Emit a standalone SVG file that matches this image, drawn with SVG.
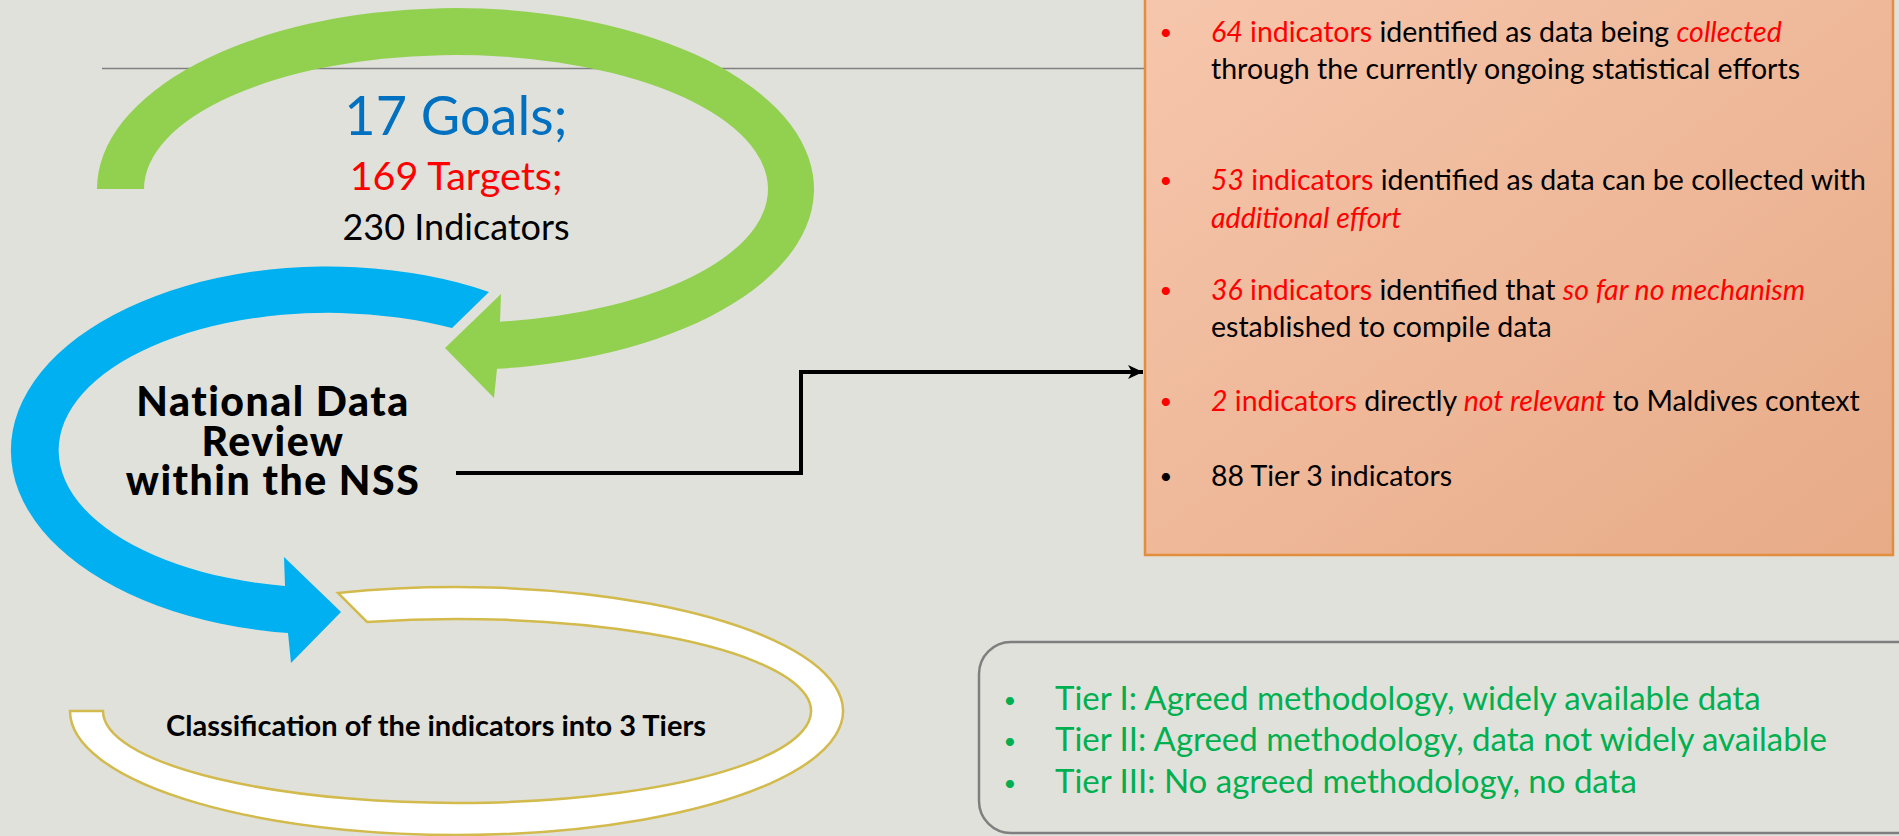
<svg xmlns="http://www.w3.org/2000/svg" width="1899" height="836" viewBox="0 0 1899 836">
<defs>
<style>
.cal{font-family:Lato,"Liberation Sans",sans-serif}
.r{fill:#FF0000}
.i{font-style:italic}
.k{fill:#000000}
.box{font-size:28.5px}
.bul{font-size:22px}
.tier{font-size:33px;fill:#00B050}
</style>
<linearGradient id="peach" x1="0" y1="0" x2="1" y2="1">
<stop offset="0" stop-color="#F6C6AC"/>
<stop offset="1" stop-color="#E7AB87"/>
</linearGradient>
<marker id="arr" markerUnits="userSpaceOnUse" markerWidth="16" markerHeight="16" viewBox="0 0 16 16" refX="15" refY="8" orient="auto">
<path d="M0,1 L15,8 L0,15 L4,8 Z" fill="#000"/>
</marker>
</defs>
<rect x="0" y="0" width="1899" height="836" fill="#E0E1DB"/>
<line x1="102" y1="68.5" x2="1145" y2="68.5" stroke="#808080" stroke-width="1.3"/>

<g id="classification">
<path d="M 338 593 A 386.5 124 0 1 1 70 711 L 103 711 A 354 92 0 1 0 367 622 Z" fill="#FFFFFF" stroke="#D2BA4C" stroke-width="2.5"/>
<text class="cal" x="436" y="736" font-size="29" font-weight="bold" text-anchor="middle" fill="#000">Classification of the indicators into 3 Tiers</text>
</g>

<g id="review">
<path d="M 489 292 A 317 184 0 1 0 288 633 L 291 663 L 341 612 L 284 557 L 285 586 A 270 137.5 0 1 1 452 328 Z" fill="#00B0F0"/>
<text font-family="Lato,'Liberation Sans',sans-serif" font-weight="900" font-size="41" letter-spacing="1.5" text-anchor="middle" fill="#000"><tspan x="273" y="416">National Data</tspan><tspan x="273" y="456">Review</tspan><tspan x="273" y="495">within the NSS</tspan></text>
</g>

<g id="goals">
<path d="M 97 189 A 358.5 181 0 1 1 497 368.8 L 494 398 L 445 348 L 501 294 L 500 321.7 A 312 134 0 1 0 144 189 Z" fill="#92D050"/>
<text class="cal" x="456" y="135" font-size="54" text-anchor="middle" fill="#0070C0">17 Goals;</text>
<text class="cal" x="456" y="190" font-size="39.5" text-anchor="middle" fill="#FF0000">169 Targets;</text>
<text class="cal" x="456" y="240" font-size="36" text-anchor="middle" fill="#000">230 Indicators</text>
</g>

<g id="connectors">
<polyline points="456,473 801,473 801,372 1143,372" fill="none" stroke="#000" stroke-width="4" marker-end="url(#arr)"/>
</g>

<g id="results">
<rect x="1145" y="-5" width="748" height="560" fill="url(#peach)" stroke="#E38D3F" stroke-width="2.5"/>
<g class="cal">
<text x="1166" y="40" class="r bul" text-anchor="middle">•</text>
<text x="1166" y="188" class="r bul" text-anchor="middle">•</text>
<text x="1166" y="298" class="r bul" text-anchor="middle">•</text>
<text x="1166" y="409" class="r bul" text-anchor="middle">•</text>
<text x="1166" y="484" class="k bul" text-anchor="middle">•</text>
</g>
<g class="cal box">
<text x="1211" y="42" class="k"><tspan class="r i">64</tspan><tspan class="r"> indicators</tspan> identified as data being <tspan class="r i">collected</tspan></text>
<text x="1211" y="79" class="k">through the currently ongoing statistical efforts</text>
<text x="1211" y="190" class="k"><tspan class="r i">53</tspan><tspan class="r"> indicators</tspan> identified as data can be collected with</text>
<text x="1211" y="228" class="r i">additional effort</text>
<text x="1211" y="300" class="k"><tspan class="r i">36</tspan><tspan class="r"> indicators</tspan> identified that <tspan class="r i">so far no mechanism</tspan></text>
<text x="1211" y="337" class="k">established to compile data</text>
<text x="1211" y="411" class="k"><tspan class="r i">2</tspan><tspan class="r"> indicators</tspan> directly <tspan class="r i">not relevant</tspan> to Maldives context</text>
<text x="1211" y="486" class="k">88 Tier 3 indicators</text>
</g>
</g>

<g id="tiers">
<rect x="979" y="642" width="1000" height="191" rx="32" fill="none" stroke="#7F7F7F" stroke-width="2.5"/>
<g class="cal tier">
<text x="1010" y="708" class="bul" text-anchor="middle">•</text>
<text x="1055" y="710">Tier I: Agreed methodology, widely available data</text>
<text x="1010" y="749" class="bul" text-anchor="middle">•</text>
<text x="1055" y="751">Tier II: Agreed methodology, data not widely available</text>
<text x="1010" y="791" class="bul" text-anchor="middle">•</text>
<text x="1055" y="793">Tier III: No agreed methodology, no data</text>
</g>
</g>
</svg>
